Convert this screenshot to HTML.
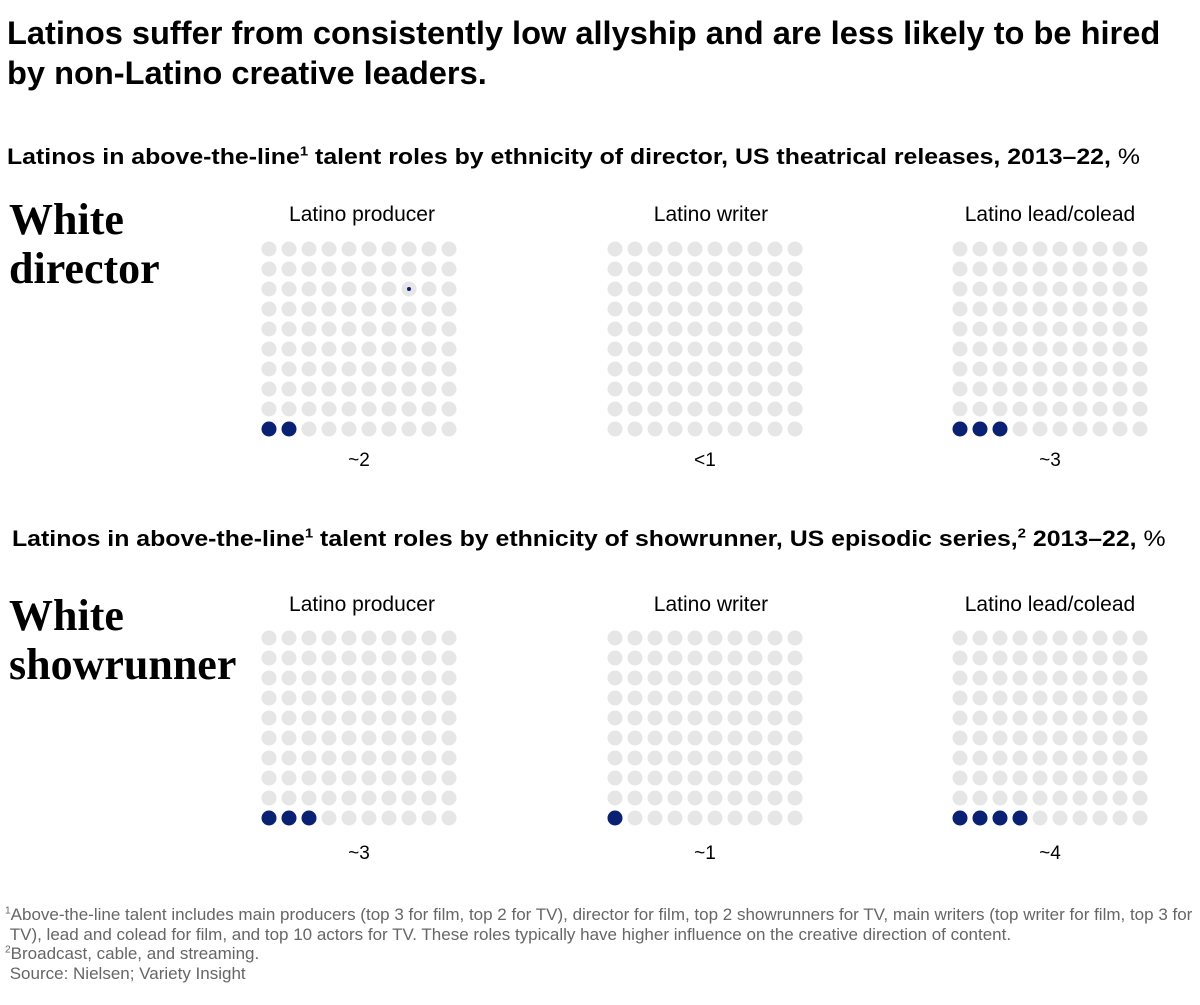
<!DOCTYPE html>
<html><head><meta charset="utf-8"><style>
body{margin:0;width:1200px;height:1005px;background:#fff;position:relative;font-family:"Liberation Sans",sans-serif;color:#000;overflow:hidden}
.a{position:absolute;white-space:nowrap}
.t{font-size:32.6px;font-weight:bold;left:7px;line-height:40px}
.s{font-size:22px;font-weight:bold;transform:scaleX(1.13);transform-origin:0 0}
.s span{font-weight:normal}
.big{font-family:"Liberation Serif",serif;font-weight:bold;font-size:44px;line-height:49px;left:9px}
.h{font-size:21px;width:200px;text-align:center}
.v{font-size:19px;width:200px;text-align:center}
.f{font-size:17px;color:#666;left:5px;line-height:19.5px}
sup{font-size:60%;line-height:0}
</style></head><body>
<div class="a t" style="top:13px">Latinos suffer from consistently low allyship and are less likely to be hired<br>by non-Latino creative leaders.</div>
<div class="a s" style="left:7px;top:144px">Latinos in above-the-line<sup>1</sup> talent roles by ethnicity of director, US theatrical releases, 2013–22, <span>%</span></div>
<div class="a s" style="left:12px;top:526px">Latinos in above-the-line<sup>1</sup> talent roles by ethnicity of showrunner, US episodic series,<sup>2</sup> 2013–22, <span>%</span></div>
<div class="a big" style="top:195px">White<br>director</div>
<div class="a big" style="top:591px">White<br>showrunner</div>
<div class="a h" style="left:262px;top:203px">Latino producer</div>
<div class="a h" style="left:611px;top:203px">Latino writer</div>
<div class="a h" style="left:950px;top:203px">Latino lead/colead</div>
<div class="a h" style="left:262px;top:593px">Latino producer</div>
<div class="a h" style="left:611px;top:593px">Latino writer</div>
<div class="a h" style="left:950px;top:593px">Latino lead/colead</div>
<div class="a v" style="left:259px;top:450px">~2</div>
<div class="a v" style="left:605px;top:450px">&lt;1</div>
<div class="a v" style="left:950px;top:450px">~3</div>
<div class="a v" style="left:259px;top:843px">~3</div>
<div class="a v" style="left:605px;top:843px">~1</div>
<div class="a v" style="left:950px;top:843px">~4</div>
<svg class="a" style="left:0;top:0" width="1200" height="1005">
<defs><pattern id="p" width="20" height="20" patternUnits="userSpaceOnUse" x="0" y="0"><circle cx="10" cy="10" r="7.5" fill="#e6e6e6"/></pattern></defs>
<g transform="translate(259,239)"><rect width="200" height="200" fill="url(#p)"/></g>
<g transform="translate(605,239)"><rect width="200" height="200" fill="url(#p)"/></g>
<g transform="translate(950,239)"><rect width="200" height="200" fill="url(#p)"/></g>
<g transform="translate(259,628)"><rect width="200" height="200" fill="url(#p)"/></g>
<g transform="translate(605,628)"><rect width="200" height="200" fill="url(#p)"/></g>
<g transform="translate(950,628)"><rect width="200" height="200" fill="url(#p)"/></g>
<g fill="#0a2173">
<circle cx="269" cy="429" r="7.5"/><circle cx="289" cy="429" r="7.5"/>
<circle cx="409" cy="289" r="2"/>
<circle cx="960" cy="429" r="7.5"/><circle cx="980" cy="429" r="7.5"/><circle cx="1000" cy="429" r="7.5"/>
<circle cx="269" cy="818" r="7.5"/><circle cx="289" cy="818" r="7.5"/><circle cx="309" cy="818" r="7.5"/>
<circle cx="615" cy="818" r="7.5"/>
<circle cx="960" cy="818" r="7.5"/><circle cx="980" cy="818" r="7.5"/><circle cx="1000" cy="818" r="7.5"/><circle cx="1020" cy="818" r="7.5"/>
</g></svg>
<div class="a f" style="top:905px"><sup>1</sup>Above-the-line talent includes main producers (top 3 for film, top 2 for TV), director for film, top 2 showrunners for TV, main writers (top writer for film, top 3 for<br>&nbsp;TV), lead and colead for film, and top 10 actors for TV. These roles typically have higher influence on the creative direction of content.<br><sup>2</sup>Broadcast, cable, and streaming.<br>&nbsp;Source: Nielsen; Variety Insight</div>
</body></html>
